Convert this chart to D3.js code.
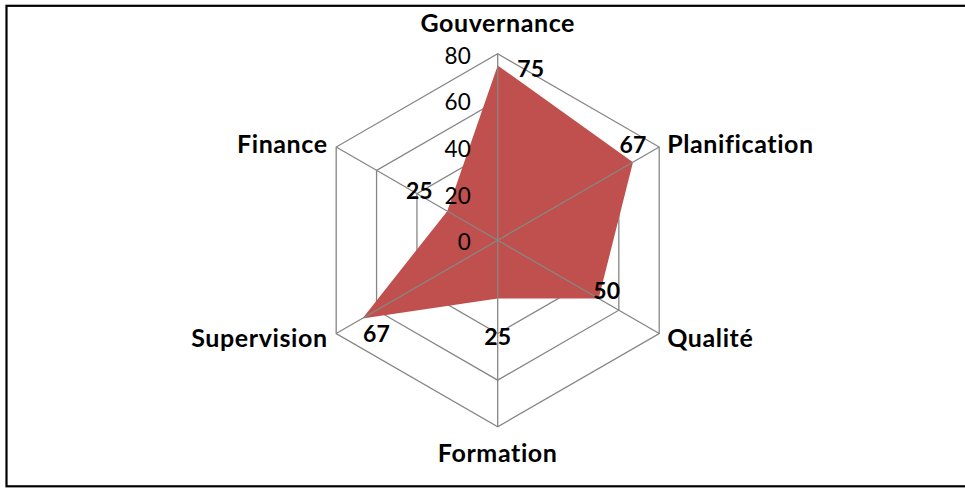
<!DOCTYPE html>
<html>
<head>
<meta charset="utf-8">
<script src="https://cdnjs.cloudflare.com/ajax/libs/d3/7.8.5/d3.min.js"></script>
<style>
  body { margin: 0; background: #fff; }
  svg { display: block; }
</style>
</head>
<body>
<div id="chart"></div>
<script>
// Radar chart - scores par domaine
const width = 965, height = 493;

const categories = ["Gouvernance", "Planification", "Qualité", "Formation", "Supervision", "Finance"];
const scores = [75, 67, 50, 25, 67, 25];
const ticks = [0, 20, 40, 60, 80];

// where each value label sits relative to its point (centre of label)
const labelOffsets = [[33, 4], [0, -17], [8, -8], [0, 38], [14, 16], [-28, -20]];

const cx = 497.7, cy = 240.3, radius = 186.5;
const font = "Lato, 'Open Sans', sans-serif";

let svg = d3.select("#chart")
    .append("svg")
    .attr("width", width)
    .attr("height", height);

// frame
svg.append("rect")
    .attr("x", 6.5)
    .attr("y", 5.8)
    .attr("width", 970)
    .attr("height", 480.5)
    .attr("fill", "none")
    .attr("stroke", "#000")
    .attr("stroke-width", 2.2);

let g = svg.append("g")
    .attr("transform", `translate(${cx},${cy})`);

let r = d3.scaleLinear()
    .domain([0, 80])
    .range([0, radius]);

let angle = d3.scalePoint()
    .domain(categories)
    .range([0, 2 * Math.PI * (categories.length - 1) / categories.length]);

function pt(cat, v) {
    let a = angle(cat);
    return [r(v) * Math.sin(a), -r(v) * Math.cos(a)];
}

// rings (behind the series)
ticks.filter(t => t > 0).forEach(function(t) {
    g.append("path")
        .attr("d", d3.line()(categories.map(c => pt(c, t))) + "Z")
        .attr("fill", "none")
        .attr("stroke", "#868686")
        .attr("stroke-width", 1.3);
});

// series
g.append("path")
    .datum(scores)
    .attr("d", d3.line()(categories.map((c, i) => pt(c, scores[i]))) + "Z")
    .attr("fill", "#C0504D");

// spokes on top
g.selectAll(".spoke").data(categories).enter()
    .append("line")
    .attr("x1", 0).attr("y1", 0)
    .attr("x2", d => pt(d, 80)[0])
    .attr("y2", d => pt(d, 80)[1])
    .attr("stroke", "#868686")
    .attr("stroke-width", 1.3);

// tick labels along the first spoke
g.selectAll(".tick").data(ticks).enter()
    .append("text")
    .attr("x", -27)
    .attr("y", d => -r(d) + 10)
    .attr("text-anchor", "end")
    .style("font-family", font)
    .style("font-size", "22.5px")
    .style("fill", "#000")
    .text(d => d);

// value labels
g.selectAll(".val").data(scores).enter()
    .append("text")
    .attr("x", (d, i) => pt(categories[i], d)[0] + labelOffsets[i][0])
    .attr("y", (d, i) => pt(categories[i], d)[1] + labelOffsets[i][1] + 8)
    .attr("text-anchor", "middle")
    .style("font-family", font)
    .style("font-weight", "bold")
    .style("font-size", "23px")
    .style("fill", "#000")
    .text(d => d);

// category labels
g.selectAll(".cat").data(categories).enter()
    .append("text")
    .attr("x", function(d) {
        let p = pt(d, 80);
        if (Math.abs(p[0]) < 1) return p[0];
        return p[0] > 0 ? p[0] + 8 : p[0] - 8.5;
    })
    .attr("y", function(d) {
        let p = pt(d, 80);
        if (Math.abs(p[0]) < 1) return p[1] < 0 ? p[1] - 21.5 : p[1] + 35;
        return p[1] < 0 ? p[1] + 6 : p[1] + 13;
    })
    .attr("text-anchor", function(d) {
        let p = pt(d, 80);
        if (Math.abs(p[0]) < 1) return "middle";
        return p[0] > 0 ? "start" : "end";
    })
    .style("font-family", font)
    .style("font-weight", "bold")
    .style("font-size", "25px")
    .style("letter-spacing", "0.6px")
    .style("fill", "#000")
    .text(d => d);
</script>
</body>
</html>
